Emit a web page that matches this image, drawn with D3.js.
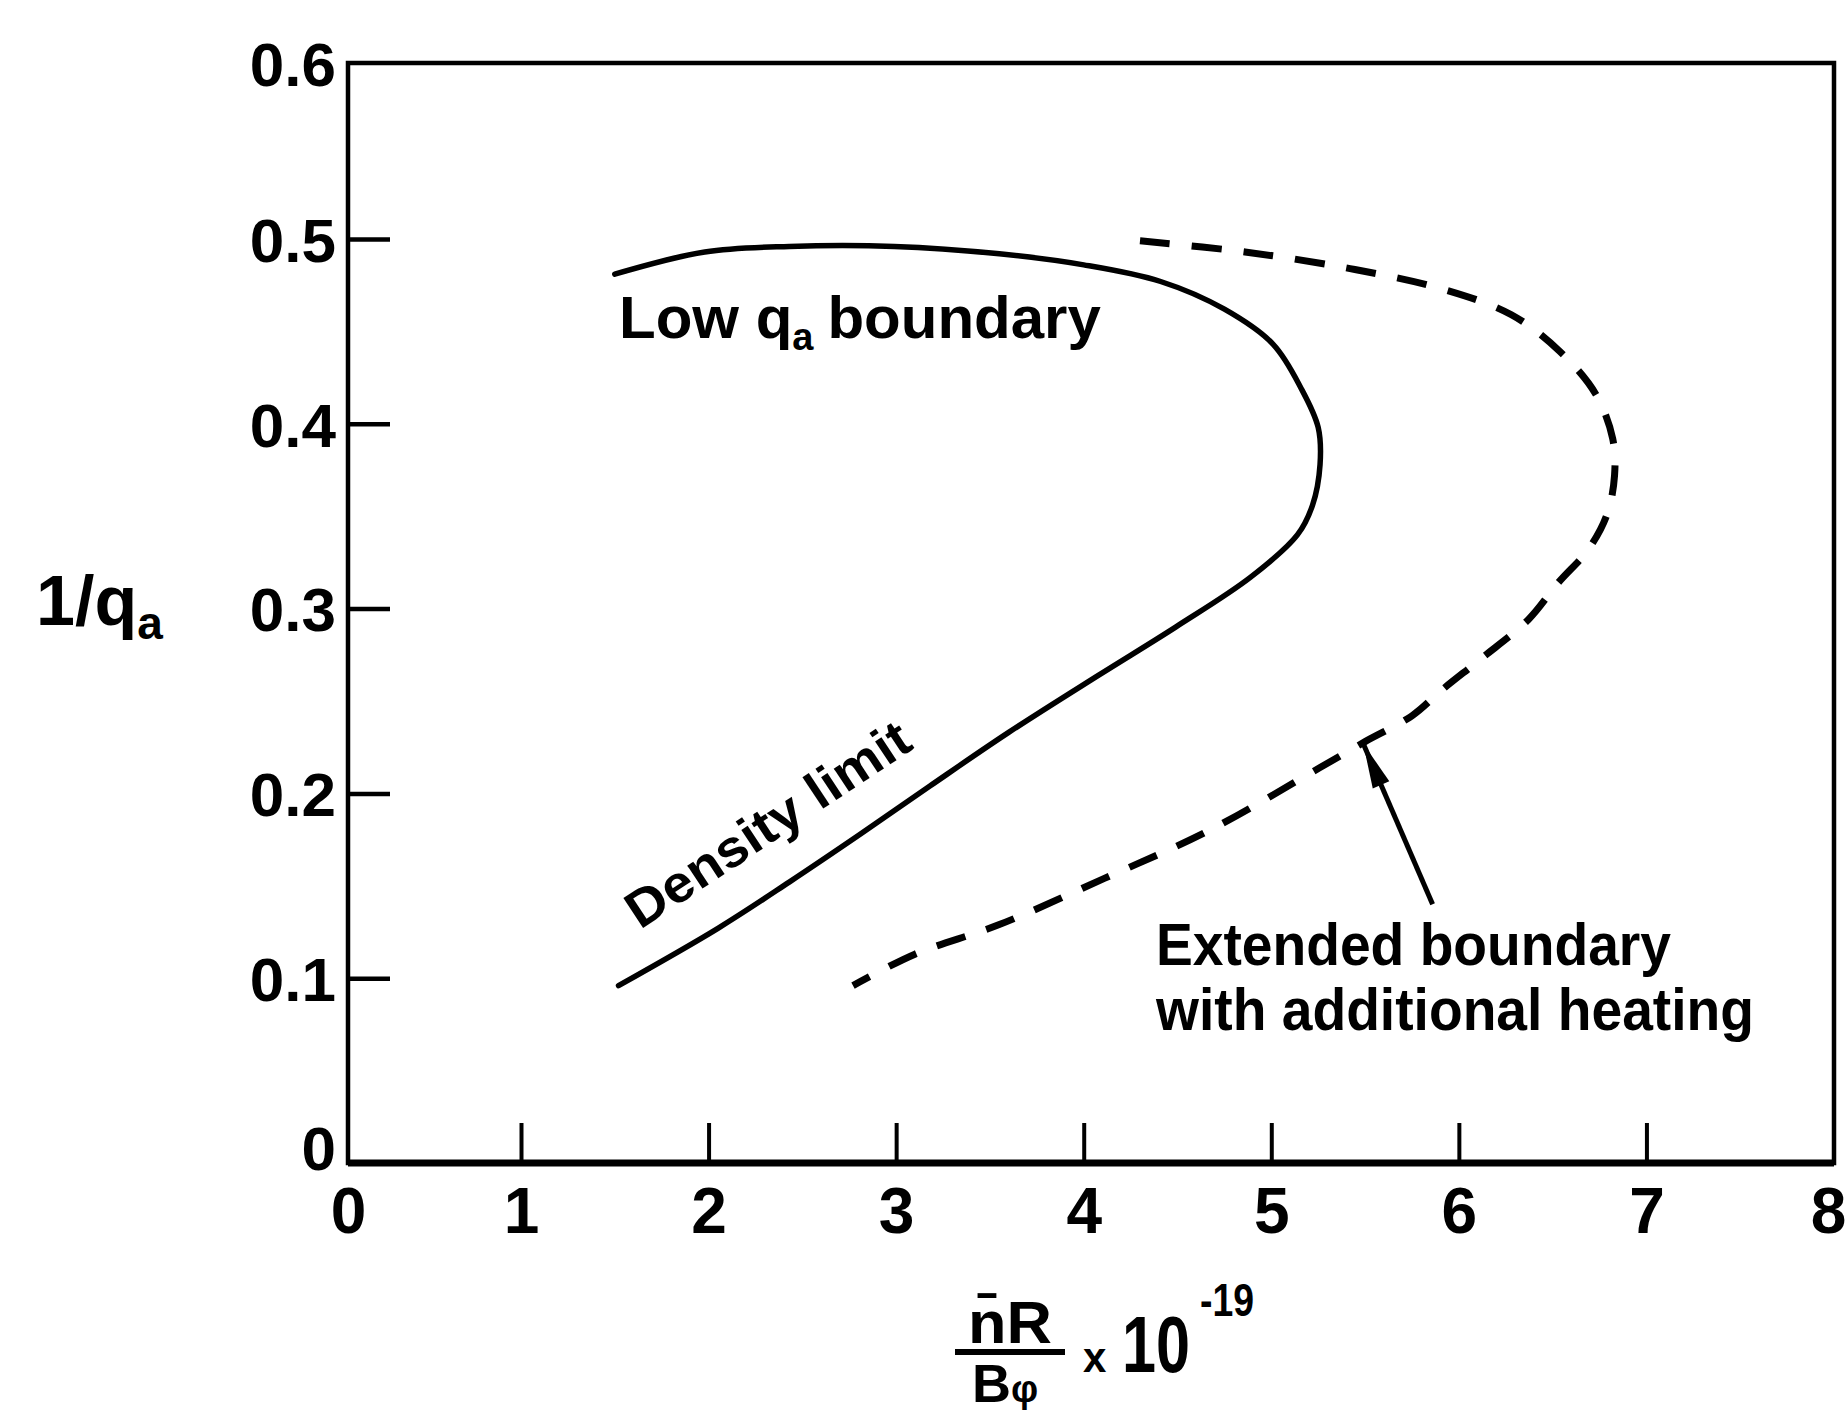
<!DOCTYPE html>
<html>
<head>
<meta charset="utf-8">
<script src="https://cdn.jsdelivr.net/npm/d3@7"></script>
<style>
  body { margin: 0; background: #fff; }
  svg { display: block; }
  text { font-family: "Liberation Sans", "DejaVu Sans", sans-serif; font-weight: bold; fill: #000; }
</style>
</head>
<body>
<div id="chart"></div>
<script>
// axis ticks
const xTicks = [0, 1, 2, 3, 4, 5, 6, 7, 8];
const yTicks = [0, 0.1, 0.2, 0.3, 0.4, 0.5, 0.6];

// low q_a boundary + density limit (solid)
const densityX = [1.50, 1.98, 2.43, 2.99, 3.55, 4.00, 4.41, 4.75, 5.01, 5.16, 5.25, 5.26, 5.22, 5.14, 4.89, 4.49, 4.08, 3.60, 3.18, 2.81, 2.43, 2.05, 1.52];
const densityY = [0.481, 0.493, 0.496, 0.496, 0.492, 0.486, 0.477, 0.462, 0.443, 0.419, 0.398, 0.378, 0.356, 0.340, 0.317, 0.290, 0.264, 0.233, 0.204, 0.178, 0.152, 0.127, 0.096];

// extended boundary with additional heating (dashed)
const extendedX = [4.30, 4.86, 5.42, 5.91, 6.28, 6.54, 6.73, 6.82, 6.83, 6.79, 6.69, 6.53, 6.37, 6.12, 5.91, 5.75, 5.50, 5.26, 4.67, 4.11, 3.55, 3.10, 2.77];
const extendedY = [0.499, 0.493, 0.484, 0.473, 0.459, 0.439, 0.416, 0.392, 0.372, 0.351, 0.332, 0.314, 0.294, 0.273, 0.256, 0.242, 0.228, 0.214, 0.180, 0.154, 0.129, 0.113, 0.096];

// arrow: tail -> tip
const arrowX = [5.86, 5.49];
const arrowY = [0.140, 0.227];

const width = 1848, height = 1414;
const svg = d3.select("#chart").append("svg")
  .attr("width", width)
  .attr("height", height);

// hand-drawn axes are not quite even, so calibrate on a few ticks
const x = d3.scaleLinear().domain([0, 1, 8]).range([348, 521, 1834]);
const y = d3.scaleLinear().domain([0, 0.5, 0.6]).range([1163, 239, 63]);

// frame
svg.append("path")
  .attr("d", `M${x(0)},${y(0.6)}H${x(8)}V${y(0)}H${x(0)}Z`)
  .attr("fill", "none")
  .attr("stroke", "#000")
  .attr("stroke-width", 4.5);
svg.append("line")
  .attr("x1", x(0)).attr("x2", x(8))
  .attr("y1", y(0)).attr("y2", y(0))
  .attr("stroke", "#000").attr("stroke-width", 7);

// y axis: ticks point inward
const yAxis = svg.append("g")
  .attr("transform", `translate(${x(0)},0)`)
  .call(d3.axisRight(y).tickValues(yTicks).tickSize(42).tickFormat(d => d === 0 ? "0" : d3.format(".1f")(d)));
yAxis.select(".domain").remove();
yAxis.selectAll(".tick line")
  .attr("stroke", "#000").attr("stroke-width", 4.5)
  .filter(d => d === 0 || d === 0.6).remove();
yAxis.selectAll(".tick text")
  .attr("x", -12)
  .attr("dy", d => d === 0 ? "0.1em" : "0.36em")
  .attr("text-anchor", "end")
  .style("font-size", "62px");

// x axis: ticks point up, labels below
const xAxis = svg.append("g")
  .attr("transform", `translate(0,${y(0)})`)
  .call(d3.axisTop(x).tickValues(xTicks).tickSize(40).tickFormat(d3.format("d")));
xAxis.select(".domain").remove();
xAxis.selectAll(".tick line")
  .attr("stroke", "#000").attr("stroke-width", 4)
  .filter(d => d === 0 || d === 8).remove();
xAxis.selectAll(".tick text")
  .attr("y", 70)
  .attr("dy", 0)
  .attr("x", d => d === 8 ? -6 : 0)
  .attr("text-anchor", "middle")
  .style("font-size", "64px");

// curves
const line = d3.line()
  .x(d => x(d[0]))
  .y(d => y(d[1]))
  .curve(d3.curveCatmullRom.alpha(0.5));

svg.append("path")
  .attr("d", line(d3.zip(densityX, densityY)))
  .attr("fill", "none")
  .attr("stroke", "#000")
  .attr("stroke-width", 5.5)
  .attr("stroke-linecap", "round");

svg.append("path")
  .attr("d", line(d3.zip(extendedX, extendedY)))
  .attr("fill", "none")
  .attr("stroke", "#000")
  .attr("stroke-width", 7)
  .attr("stroke-dasharray", "30,22");

// arrow
const ax0 = x(arrowX[0]), ay0 = y(arrowY[0]), ax1 = x(arrowX[1]), ay1 = y(arrowY[1]);
const ang = Math.atan2(ay1 - ay0, ax1 - ax0);
svg.append("line")
  .attr("x1", ax0).attr("y1", ay0)
  .attr("x2", ax1).attr("y2", ay1)
  .attr("stroke", "#000").attr("stroke-width", 5);
const headLen = 45, headW = 9;
const bx = ax1 - headLen * Math.cos(ang), by = ay1 - headLen * Math.sin(ang);
svg.append("path")
  .attr("d", `M${ax1},${ay1}L${bx + headW * Math.sin(ang)},${by - headW * Math.cos(ang)}L${bx - headW * Math.sin(ang)},${by + headW * Math.cos(ang)}Z`)
  .attr("fill", "#000");

// annotations
const low = svg.append("text")
  .attr("x", 619).attr("y", 338)
  .style("font-size", "60px");
low.append("tspan").text("Low q");
low.append("tspan").attr("dy", 12).style("font-size", "38px").text("a");
low.append("tspan").attr("dy", -12).attr("dx", 14).text("boundary");

svg.append("text")
  .attr("transform", "translate(640,930) rotate(-33.5)")
  .attr("textLength", 330).attr("lengthAdjust", "spacingAndGlyphs")
  .style("font-size", "52px")
  .text("Density limit");

svg.append("text")
  .attr("x", 1156).attr("y", 965)
  .attr("textLength", 515).attr("lengthAdjust", "spacingAndGlyphs")
  .style("font-size", "60px")
  .text("Extended boundary");
svg.append("text")
  .attr("x", 1156).attr("y", 1030)
  .attr("textLength", 598).attr("lengthAdjust", "spacingAndGlyphs")
  .style("font-size", "60px")
  .text("with additional heating");

// y label
const yl = svg.append("text").attr("x", 36).attr("y", 625).style("font-size", "70px");
yl.append("tspan").text("1/q");
yl.append("tspan").attr("dy", 14).style("font-size", "46px").text("a");

// x label: nR / Bφ x 10^-19
svg.append("text")
  .attr("x", 968).attr("y", 1343)
  .attr("textLength", 84).attr("lengthAdjust", "spacingAndGlyphs")
  .style("font-size", "60px")
  .text("n\u0304R");
svg.append("line")
  .attr("x1", 955).attr("x2", 1065)
  .attr("y1", 1352).attr("y2", 1352)
  .attr("stroke", "#000").attr("stroke-width", 6);
const den = svg.append("text").attr("x", 972).attr("y", 1402).style("font-size", "54px");
den.append("tspan").text("B");
den.append("tspan").style("font-size", "38px").text("\u03c6");
svg.append("text")
  .attr("x", 1083).attr("y", 1372)
  .style("font-size", "42px")
  .text("x");
svg.append("text")
  .attr("x", 1122).attr("y", 1372)
  .attr("textLength", 68).attr("lengthAdjust", "spacingAndGlyphs")
  .style("font-size", "80px")
  .text("10");
svg.append("text")
  .attr("x", 1200).attr("y", 1316)
  .attr("textLength", 54).attr("lengthAdjust", "spacingAndGlyphs")
  .style("font-size", "46px")
  .text("-19");
</script>
</body>
</html>
